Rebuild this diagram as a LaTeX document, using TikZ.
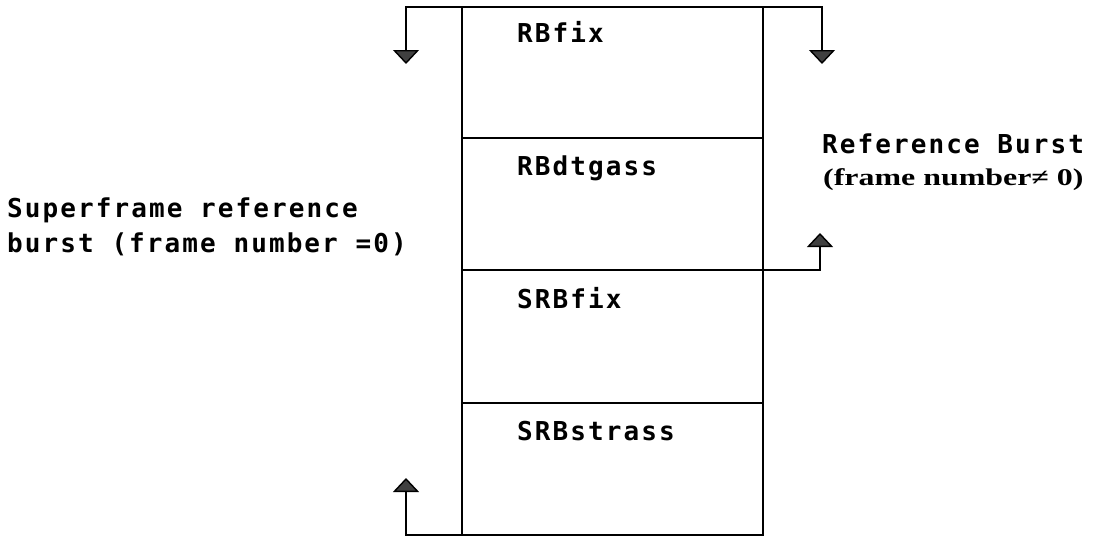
\documentclass[tikz,border=0pt]{standalone}
\usepackage{fontspec}
\usetikzlibrary{arrows.meta}
\newfontfamily\labelmono[LetterSpace=8]{DejaVu Sans Mono}
\newfontfamily\notefont[FakeStretch=1.33]{Liberation Serif}

\tikzset{
  line/.style={line width=1.4pt, black},
  head/.style={-{Triangle[width=26pt,length=14pt,fill=black!75]}},
  cell/.style={draw, line width=1.4pt, minimum width=301pt, inner sep=0pt, outer sep=0pt},
  field/.style={anchor=base west, inner sep=0pt, font=\labelmono\bfseries\fontsize{26}{30}\selectfont},
  caption/.style={anchor=base west, inner sep=0pt, align=left, font=\labelmono\bfseries\fontsize{26}{35}\selectfont},
  note/.style={anchor=base west, inner sep=0pt, font=\notefont\bfseries\fontsize{24}{26}\selectfont},
}

\begin{document}
\begin{tikzpicture}[x=1pt, y=-1pt]
  \useasboundingbox (0,0) rectangle (1096,538);

  % the four fields of the burst, stacked top to bottom
  \node[cell, minimum height=131pt] (c1) at (612.5,72.5) {};
  \node[cell, minimum height=132pt] (c2) at (612.5,204) {};
  \node[cell, minimum height=133pt] (c3) at (612.5,336.5) {};
  \node[cell, minimum height=132pt] (c4) at (612.5,469) {};

  \node[field] (t1) at (517,42) {RBfix};
  \node[field] (t2) at (517,175) {RBdtgass};
  \node[field] (t3) at (517,308) {SRBfix};
  \node[field] (t4) at (517,440) {SRBstrass};

  % loose ends of the brackets
  \coordinate (la) at (406,64);
  \coordinate (ra) at (822,64);
  \coordinate (rm) at (820,233);
  \coordinate (lb) at (406,478);

  \draw[line, head] (c1.north) -| (la);
  \draw[line, head] (c1.north) -| (ra);
  \draw[line, head] (c2.south east) -| (rm);
  \draw[line, head] (c4.south west) -| (lb);

  % side captions
  \node[caption] (sref) at (7,252) {Superframe reference\\burst (frame number =0)};
  \node[caption] (rref) at (822,153) {Reference Burst};
  \node[note] (rnote) at (823,185) {(frame number≠ 0)};
\end{tikzpicture}
\end{document}
